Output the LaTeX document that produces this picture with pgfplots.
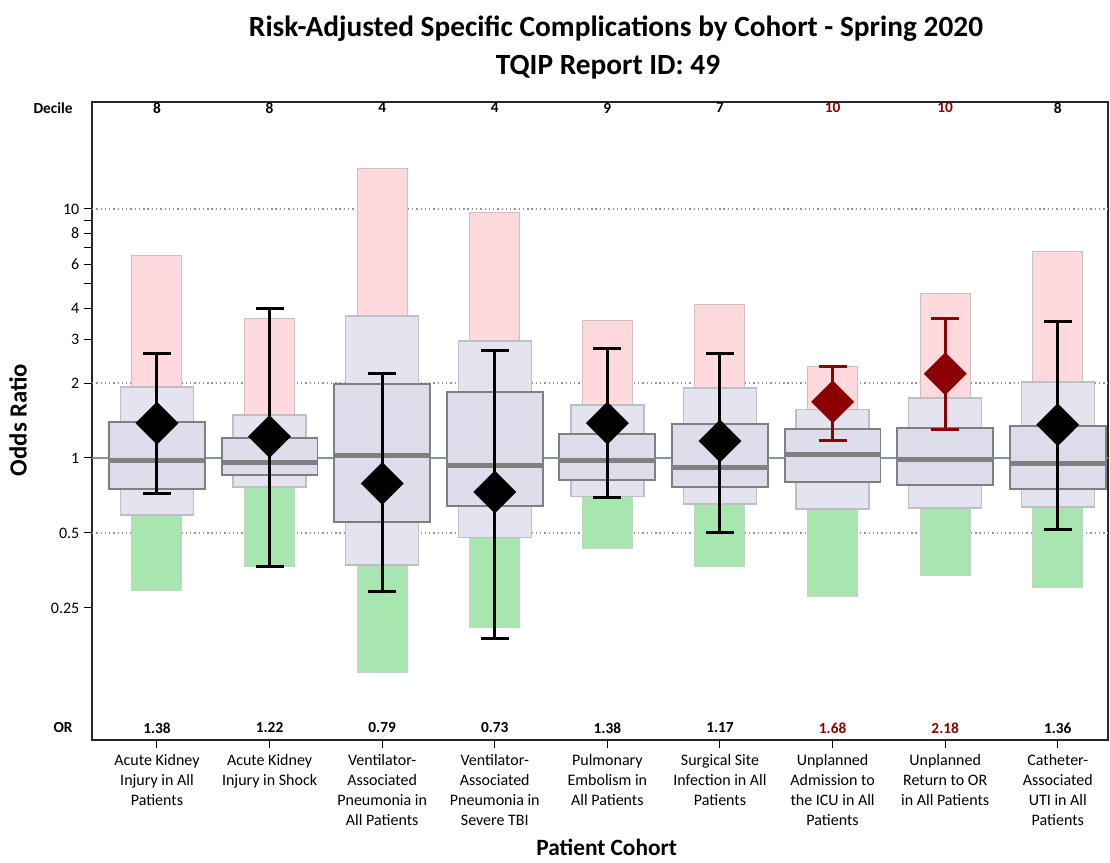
\documentclass[border=0pt]{standalone}
\usepackage{pgfplots}
\pgfplotsset{compat=1.18}
\usepackage{pgfplotstable}
\usepackage{fontspec}
\setmainfont{Carlito}
\definecolor{pinkf}{RGB}{255,217,222}
\definecolor{pinkd}{RGB}{205,190,193}
\definecolor{greenf}{RGB}{168,230,176}
\definecolor{greend}{RGB}{190,215,192}
\definecolor{lightf}{RGB}{228,228,240}
\definecolor{lightd}{RGB}{190,190,198}
\definecolor{darkf}{RGB}{220,220,234}
\definecolor{darkd}{RGB}{128,128,128}
\definecolor{medc}{RGB}{128,128,128}
\definecolor{refc}{RGB}{127,149,168}
\definecolor{dred}{RGB}{139,0,0}
\definecolor{gridc}{RGB}{150,150,150}

\pgfplotstableread{
x pink lt lb gr dt db med et eb or dec col
0 6.53 1.93 0.59 0.295 1.395 0.75 0.973 2.62 0.717 1.38 8 black
1 3.62 1.49 0.765 0.368 1.20 0.855 0.955 3.97 0.368 1.22 8 black
2 14.5 3.72 0.372 0.137 1.98 0.553 1.02 2.18 0.29 0.79 4 black
3 9.64 2.95 0.48 0.208 1.84 0.64 0.937 2.71 0.189 0.73 4 black
4 3.58 1.63 0.70 0.435 1.25 0.816 0.973 2.74 0.697 1.38 9 black
5 4.15 1.91 0.653 0.368 1.37 0.765 0.92 2.64 0.504 1.17 7 black
6 2.34 1.57 0.624 0.279 1.31 0.80 1.03 2.33 1.18 1.68 10 dred
7 4.56 1.74 0.63 0.336 1.32 0.779 0.99 3.62 1.30 2.18 10 dred
8 6.78 2.02 0.636 0.303 1.345 0.75 0.946 3.52 0.514 1.36 8 black
}\data

\tikzset{
  pinkst/.style={fill=pinkf, draw=pinkd, line width=0.75pt},
  greenst/.style={fill=greenf, draw=greend, line width=0.75pt},
  lightst/.style={fill=lightf, draw=lightd, line width=1pt},
  darkst/.style={fill=darkf, draw=darkd, line width=1.4pt},
  medst/.style={draw=medc, line width=3.75pt},
  errst/.style={line width=2.25pt},
  diam/.style={only marks, mark=square*, mark size=11.2pt, mark options={rotate=45, line width=0.3pt}},
  declab/.style={font=\bfseries\fontsize{11.5}{13}\selectfont, yshift=-4.5pt},
  orlab/.style={font=\bfseries\fontsize{11.5}{13}\selectfont, yshift=9pt},
}

\begin{document}
\begin{tikzpicture}
\useasboundingbox (0,0) rectangle (832.5pt,647.25pt);
\node[font=\bfseries\fontsize{22}{26}\selectfont] at (462pt,626pt) {Risk-Adjusted Specific Complications by Cohort - Spring 2020};
\node[font=\bfseries\fontsize{22}{26}\selectfont] at (456pt,596.5pt) {TQIP Report ID: 49};
\node[rotate=90, font=\bfseries\fontsize{18.5}{22}\selectfont] at (13.5pt,332.25pt) {Odds Ratio};
\node[font=\bfseries\fontsize{17.5}{21}\selectfont] at (455pt,12pt) {Patient Cohort};
\begin{axis}[
  at={(69pt,92.25pt)}, anchor=south west,
  width=762pt, height=478.5pt, scale only axis,
  ymode=log, ymin=0.0737, ymax=26.9,
  xmin=-0.577, xmax=8.446,
  clip=false,
  axis line style={black!85, line width=1pt},
  tick align=outside, major tick length=6pt,
  tick style={black, line width=0.75pt},
  xtick pos=bottom, ytick pos=left,
  xtick={0,...,8},
  xticklabels={{Acute Kidney\\Injury in All\\Patients},{Acute Kidney\\Injury in Shock},{Ventilator-\\Associated\\Pneumonia in\\All Patients},{Ventilator-\\Associated\\Pneumonia in\\Severe TBI},{Pulmonary\\Embolism in\\All Patients},{Surgical Site\\Infection in All\\Patients},{Unplanned\\Admission to\\the ICU in All\\Patients},{Unplanned\\Return to OR\\in All Patients},{Catheter-\\Associated\\UTI in All\\Patients}},
  xticklabel style={align=center, font=\fontsize{12}{15}\selectfont, yshift=-1.5pt},
  ytick={0.25,0.5,1,2,3,4,5,6,7,8,9,10},
  yticklabels={0.25,0.5,1,2,3,4,,6,,8,,10},
  yticklabel style={font=\fontsize{12}{14}\selectfont},
  minor ytick={},
  extra y ticks={0.5,2,10},
  extra y tick labels={},
  extra y tick style={grid=major, major grid style={gridc, dash pattern=on 1pt off 2.2pt, line width=0.9pt}},
]
\addplot[refc, line width=1.6pt] coordinates {(-0.577,1) (8.446,1)};
\pgfplotsinvokeforeach{0,...,8}{
  \pgfplotstablegetelem{#1}{pink}\of\data\let\vP\pgfplotsretval
  \pgfplotstablegetelem{#1}{lt}\of\data\let\vLt\pgfplotsretval
  \pgfplotstablegetelem{#1}{lb}\of\data\let\vLb\pgfplotsretval
  \pgfplotstablegetelem{#1}{gr}\of\data\let\vG\pgfplotsretval
  \pgfplotstablegetelem{#1}{dt}\of\data\let\vDt\pgfplotsretval
  \pgfplotstablegetelem{#1}{db}\of\data\let\vDb\pgfplotsretval
  \pgfplotstablegetelem{#1}{med}\of\data\let\vM\pgfplotsretval
  \pgfplotstablegetelem{#1}{et}\of\data\let\vEt\pgfplotsretval
  \pgfplotstablegetelem{#1}{eb}\of\data\let\vEb\pgfplotsretval
  \pgfplotstablegetelem{#1}{or}\of\data\let\vOr\pgfplotsretval
  \pgfplotstablegetelem{#1}{dec}\of\data\let\vD\pgfplotsretval
  \pgfplotstablegetelem{#1}{col}\of\data\let\vC\pgfplotsretval
  \pgfmathsetmacro\xa{#1-0.222}\pgfmathsetmacro\xb{#1+0.222}
  \pgfmathsetmacro\xc{#1-0.324}\pgfmathsetmacro\xd{#1+0.324}
  \pgfmathsetmacro\xe{#1-0.426}\pgfmathsetmacro\xf{#1+0.426}
  \pgfmathsetmacro\xg{#1-0.124}\pgfmathsetmacro\xh{#1+0.124}
  \edef\tmp{%
    \noexpand\addplot[pinkst] coordinates {(\xa,1) (\xb,1) (\xb,\vP) (\xa,\vP)} --cycle;
    \noexpand\addplot[greenst] coordinates {(\xa,1) (\xb,1) (\xb,\vG) (\xa,\vG)} --cycle;
    \noexpand\addplot[lightst] coordinates {(\xc,\vLb) (\xd,\vLb) (\xd,\vLt) (\xc,\vLt)} --cycle;
    \noexpand\addplot[darkst] coordinates {(\xe,\vDb) (\xf,\vDb) (\xf,\vDt) (\xe,\vDt)} --cycle;
    \noexpand\addplot[medst] coordinates {(\xe,\vM) (\xf,\vM)};
    \noexpand\addplot[errst,\vC] coordinates {(#1,\vEb) (#1,\vEt)};
    \noexpand\addplot[errst,\vC] coordinates {(\xg,\vEt) (\xh,\vEt)};
    \noexpand\addplot[errst,\vC] coordinates {(\xg,\vEb) (\xh,\vEb)};
    \noexpand\addplot[diam,\vC] coordinates {(#1,\vOr)};
    \noexpand\node[declab,text=\vC] at (axis cs:#1,26.9) {\vD};
    \noexpand\node[orlab,text=\vC] at (axis cs:#1,0.0737) {\vOr};
  }\tmp
}
\node[anchor=east, xshift=-11pt, yshift=-4.5pt, font=\bfseries\fontsize{11.5}{13}\selectfont] at (rel axis cs:0,1) {Decile};
\node[anchor=east, xshift=-11pt, yshift=9pt, font=\bfseries\fontsize{11.5}{13}\selectfont] at (rel axis cs:0,0) {OR};
\end{axis}
\end{tikzpicture}
\end{document}
